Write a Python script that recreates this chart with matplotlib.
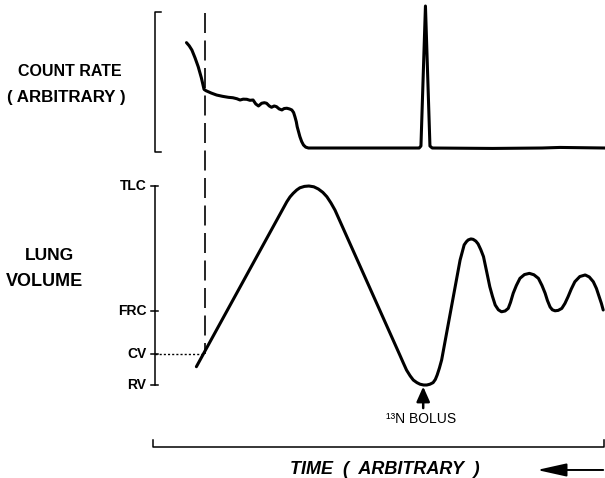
import matplotlib
matplotlib.use("Agg")
import matplotlib.pyplot as plt

# ---------------- data (arbitrary units) ----------------
# time axis: 0 .. 100 (arbitrary)
count_t = [7.0, 7.6, 8.2, 8.9, 9.6, 10.3, 10.9, 11.3, 12.5, 13.7, 15.0, 16.3,
           17.3, 18.2, 18.9, 19.6, 20.4, 21.1, 21.8, 22.4, 23.0, 23.7, 24.3,
           24.8, 25.4, 25.9, 26.5, 27.0, 27.6, 28.2, 28.7, 29.3, 29.9, 30.4,
           30.8, 31.1, 31.4, 31.6, 31.9, 32.2, 32.6, 33.0, 33.5, 34.1, 58.7,
           59.1, 60.1, 61.1, 61.6, 75.0, 86.0, 90.0, 100.0]
count_rate = [74.2, 72.0, 69.0, 63.5, 57.3, 49.5, 41.3, 40.4, 38.7, 37.3,
              36.4, 35.7, 35.4, 34.7, 33.8, 34.4, 34.3, 33.6, 33.8, 31.0,
              29.6, 31.5, 31.9, 31.5, 29.6, 28.7, 29.6, 29.1, 27.5, 26.8,
              27.8, 28.0, 27.5, 26.8, 25.0, 22.0, 18.5, 15.0, 11.5, 8.0, 4.5,
              2.1, 0.6, 0.0, 0.0, 1.4, 100.0, 1.4, 0.0, -0.3, 0.0, 0.4, 0.0]

vol_t = [9.2, 29.3, 30.0, 30.7, 31.5, 32.2, 33.2, 34.2, 35.3, 36.3, 37.3,
         38.2, 39.1, 40.0, 54.4, 55.2, 55.9, 56.7, 57.4, 58.2, 58.9, 59.7,
         60.4, 61.1, 61.8, 62.3, 62.7, 63.2, 63.7, 67.8, 68.3, 68.7, 69.2,
         69.6, 70.2, 70.7, 71.3, 71.8, 72.4, 73.0, 73.7, 74.4, 75.0, 75.6,
         76.3, 77.0, 77.8, 78.5, 79.0, 79.6, 80.3, 81.1, 82.1, 83.2, 84.2,
         85.2, 86.0, 86.7, 87.2, 87.8, 88.3, 88.9, 89.6, 90.4, 91.1, 91.8,
         92.5, 93.3, 94.4, 95.6, 96.5, 97.4, 98.1, 98.7, 99.2, 99.6]
lung_volume = [9.2, 92.1, 94.5, 96.3, 98.0, 99.1, 99.8, 100.0, 99.6, 98.5,
               96.8, 94.6, 91.5, 87.9, 15.1, 11.0, 7.5, 4.6, 2.5, 1.2, 0.4,
               0.0, 0.0, 0.4, 1.2, 2.8, 5.0, 8.5, 12.6, 62.8, 67.0, 70.4,
               72.0, 72.9, 73.4, 73.2, 72.3, 70.9, 68.0, 64.5, 57.0, 49.4,
               44.5, 40.2, 37.8, 36.8, 37.2, 38.5, 41.5, 46.1, 50.0, 53.6,
               55.5, 56.1, 55.4, 53.6, 50.0, 46.1, 42.5, 39.2, 37.8, 37.3,
               37.5, 38.5, 41.0, 44.4, 48.2, 51.9, 54.5, 55.3, 54.3, 51.9,
               48.5, 44.4, 41.0, 37.7]

vol_levels = [100.0, 37.3, 15.6, 0.0]
vol_labels = ["TLC", "FRC", "CV", "RV"]
cv_time = 11.1
bolus_time = 59.6

# ---------------- figure ----------------
W, H = 605, 478
fig = plt.figure(figsize=(W / 100, H / 100), dpi=100)
fig.patch.set_facecolor("white")

ax = fig.add_axes([0, 0, 1, 1])      # lung volume panel
axc = fig.add_axes([0, 0, 1, 1])     # count-rate panel (overlay)
for a in (ax, axc):
    a.set_axis_off()
    a.set_xlim(-34.44, 100.0)
    a.patch.set_alpha(0)
ax.set_ylim(-46.73, 193.47)
axc.set_ylim(-232.39, 104.23)

FONT = "Liberation Sans"
lw_curve = 2.2
lw_axis = 1.1

# count-rate curve
axc.plot(count_t, count_rate, color="black", lw=lw_curve,
         solid_joinstyle="round", solid_capstyle="round")
# count-rate bracket
axc.plot([1.3, 0, 0, 1.3], [96.0, 96.0, -2.6, -2.6], color="black", lw=lw_axis)

# lung volume curve
ax.plot(vol_t, lung_volume, color="black", lw=lw_curve,
        solid_joinstyle="round", solid_capstyle="round")

# lung volume axis
ax.plot([0, 0], [vol_levels[-1], vol_levels[0]], color="black", lw=lw_axis)
for lev, lab in zip(vol_levels, vol_labels):
    ax.plot([-0.8, 0.7], [lev, lev], color="black", lw=lw_axis)
    ax.text(-1.9, lev, lab, ha="right", va="center", fontsize=10,
            fontweight="bold", family=FONT)

# CV dotted line and dashed vertical line
ax.plot([0, cv_time], [vol_levels[2], vol_levels[2]], color="black", lw=1.0,
        linestyle=(0, (1.5, 1.5)))
ax.plot([cv_time, cv_time], [186.9, vol_levels[2]], color="black", lw=1.2,
        dashes=[12, 4.5])

# bolus arrow + label
ax.annotate("", xy=(bolus_time, -0.8), xytext=(bolus_time, -11.6),
            arrowprops=dict(arrowstyle="-|>,head_length=0.45,head_width=0.2",
                            color="black", lw=1.8, mutation_scale=20,
                            shrinkA=0, shrinkB=0))
fig.text(421.5 / W, 1 - 419 / H, "¹³N BOLUS", ha="center", va="center",
         fontsize=10, family=FONT)

# time bracket
ax.plot([-0.5, -0.5, 99.7, 99.7], [-27.6, -31.2, -31.2, -27.6], color="black",
        lw=lw_axis)
fig.text(385 / W, 1 - 469 / H, "TIME  (  ARBITRARY  )", ha="center",
         va="center", fontsize=13, fontweight="bold", fontstyle="italic",
         family=FONT)
ax.annotate("", xy=(84.9, -42.7), xytext=(99.6, -42.7),
            arrowprops=dict(arrowstyle="-|>,head_length=0.9,head_width=0.2",
                            color="black", lw=1.4, mutation_scale=20,
                            shrinkA=0, shrinkB=0))

# panel labels
fig.text(70 / W, 1 - 72 / H, "COUNT RATE", ha="center", va="center",
         fontsize=11.5, fontweight="bold", family=FONT)
fig.text(66.5 / W, 1 - 97.5 / H, "( ARBITRARY )", ha="center", va="center",
         fontsize=12.2, fontweight="bold", family=FONT)
fig.text(49 / W, 1 - 256 / H, "LUNG", ha="center", va="center",
         fontsize=12.5, fontweight="bold", family=FONT)
fig.text(44.5 / W, 1 - 281 / H, "VOLUME", ha="center", va="center",
         fontsize=13, fontweight="bold", family=FONT)

fig.savefig("out.png", dpi=100, facecolor="white")
